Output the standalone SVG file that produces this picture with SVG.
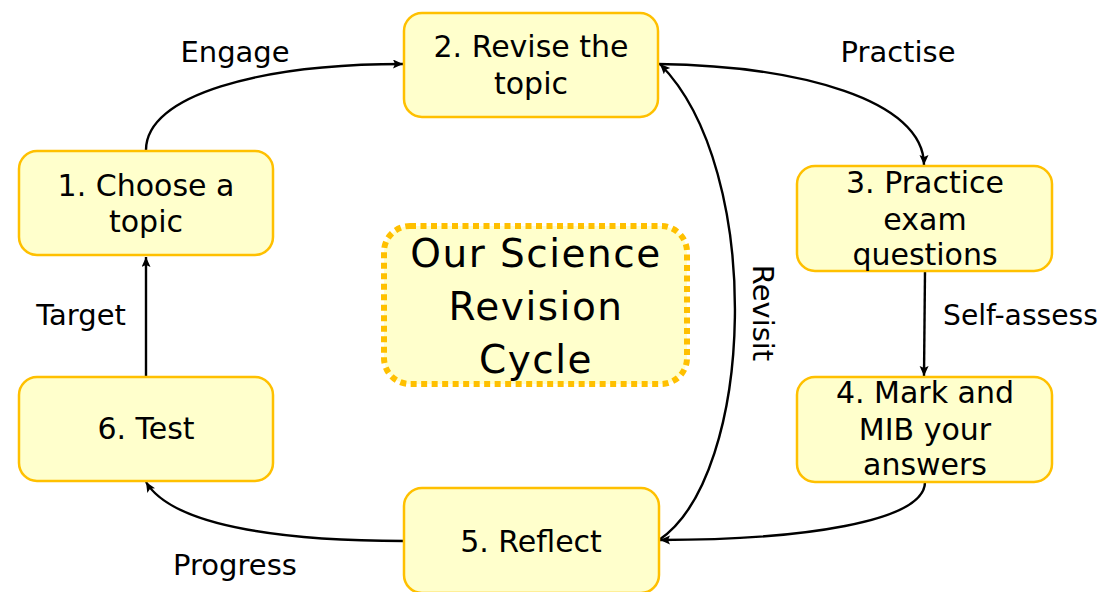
<svg xmlns="http://www.w3.org/2000/svg" width="1104" height="592" viewBox="0 0 1104 592">
<style>
.node rect{fill:#FFFFCC;stroke:#FFC000;stroke-width:2.5}
.t{font-family:"DejaVu Sans","Liberation Sans",sans-serif;font-size:30px;fill:#000;text-anchor:middle}
.lbl{font-family:"DejaVu Sans","Liberation Sans",sans-serif;font-size:29px;fill:#000;text-anchor:middle}
.title{font-family:"DejaVu Sans","Liberation Sans",sans-serif;font-size:39px;letter-spacing:1.5px;fill:#000;text-anchor:middle}
.c path{fill:none;stroke:#000;stroke-width:2.4;marker-end:url(#ah)}
</style>
<defs>
<marker id="ah" markerUnits="userSpaceOnUse" markerWidth="13" markerHeight="11" refX="10" refY="4.5" orient="auto">
<path d="M0,0 L10,4.5 L0,9 L2,4.5 z" fill="#000"/>
</marker>
</defs>
<rect width="1104" height="592" fill="#fff"/>
<g class="c" id="connectors">
<path d="M146,150 C146,95 260,64 403,64"/>
<path d="M658,64 C800,66 924,100 924,165"/>
<path d="M925,271 L924,376"/>
<path d="M925,482 C925,522 800,540 660,540"/>
<path d="M659,540 C755,475 765,170 660,64"/>
<path d="M404,541 C300,541 175,530 146,482"/>
<path d="M146,377 L146,257"/>
</g>
<g id="labels">
<text class="lbl" x="235" y="62">Engage</text>
<text class="lbl" x="898" y="62">Practise</text>
<text class="lbl" x="943" y="325" style="text-anchor:start" textLength="155" lengthAdjust="spacingAndGlyphs">Self-assess</text>
<text class="lbl" x="81" y="325">Target</text>
<text class="lbl" x="235" y="575">Progress</text>
<text class="lbl" transform="translate(753,313) rotate(90)" x="0" y="0">Revisit</text>
</g>
<g id="center">
<rect x="384" y="226" width="303" height="158" rx="26" fill="#FFFFCC" stroke="#FFC000" stroke-width="6" stroke-dasharray="6 4.5"/>
<text class="title" x="536" y="267">Our Science</text>
<text class="title" x="536" y="320">Revision</text>
<text class="title" x="536" y="373">Cycle</text>
</g>
<g class="node" id="n1">
<rect x="19" y="151" width="254" height="104" rx="18"/>
<text class="t" x="146" y="196">1. Choose a</text>
<text class="t" x="146" y="232">topic</text>
</g>
<g class="node" id="n2">
<rect x="404" y="13" width="254" height="104" rx="18"/>
<text class="t" x="531" y="57">2. Revise the</text>
<text class="t" x="531" y="94">topic</text>
</g>
<g class="node" id="n3">
<rect x="797" y="166" width="255" height="105" rx="18"/>
<text class="t" x="925" y="193">3. Practice</text>
<text class="t" x="925" y="230">exam</text>
<text class="t" x="925" y="265">questions</text>
</g>
<g class="node" id="n4">
<rect x="797" y="377" width="255" height="105" rx="18"/>
<text class="t" x="925" y="403">4. Mark and</text>
<text class="t" x="925" y="440">MIB your</text>
<text class="t" x="925" y="475">answers</text>
</g>
<g class="node" id="n5">
<rect x="404" y="488" width="255" height="105" rx="18"/>
<text class="t" x="531" y="552">5. Reflect</text>
</g>
<g class="node" id="n6">
<rect x="19" y="377" width="254" height="104" rx="18"/>
<text class="t" x="146" y="439">6. Test</text>
</g>
</svg>
